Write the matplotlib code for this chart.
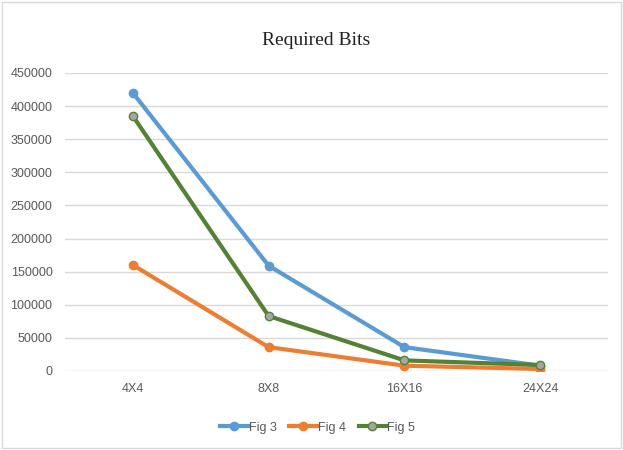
import matplotlib
matplotlib.use("Agg")
import matplotlib.pyplot as plt
from matplotlib.patches import Rectangle
from matplotlib import font_manager

categories = ["4X4", "8X8", "16X16", "24X24"]
fig3 = [420000, 159000, 36000, 8000]
fig4 = [160000, 36000, 8000, 3000]
fig5 = [385000, 83000, 16000, 9000]
yticks = [0, 50000, 100000, 150000, 200000, 250000, 300000, 350000, 400000, 450000]

names = {f.name for f in font_manager.fontManager.ttflist}
tick_font = "Liberation Sans Narrow" if "Liberation Sans Narrow" in names else "Liberation Sans"
title_font = "Liberation Serif" if "Liberation Serif" in names else "DejaVu Serif"
tsize = 10 if tick_font == "Liberation Sans Narrow" else 9

fig = plt.figure(figsize=(6.23, 4.5), dpi=100)
ax = fig.add_axes([0.1043, 0.1756, 0.8717, 0.6622])

x = list(range(len(categories)))
ax.plot(x, fig3, color="#5B9BD5", lw=3, marker="o", ms=6, mfc="#5B9BD5", mec="#5B9BD5", label="Fig 3")
ax.plot(x, fig4, color="#ED7D31", lw=3, marker="o", ms=6, mfc="#ED7D31", mec="#ED7D31", label="Fig 4")
ax.plot(x, fig5, color="#548235", lw=3, marker="o", ms=6, mfc="#A5A5A5", mec="#548235", label="Fig 5")

ax.set_xlim(-0.5, len(categories) - 0.5)
ax.set_ylim(0, 450000)
ax.set_yticks(yticks)
ax.set_yticklabels([str(v) for v in yticks])
ax.set_xticks(x)
ax.set_xticklabels(categories)
ax.grid(axis="y", color="#D9D9D9", lw=1)
ax.set_axisbelow(True)
for s in ax.spines.values():
    s.set_visible(False)
ax.tick_params(length=0, colors="#595959", labelsize=tsize)
for lab in ax.get_xticklabels() + ax.get_yticklabels():
    lab.set_fontfamily(tick_font)
ax.tick_params(axis="y", pad=9)
ax.tick_params(axis="x", pad=9)

fig.text(0.507, 0.91, "Required Bits", ha="center", va="center", fontsize=14,
         family=title_font, color="#222222")

leg = fig.legend(loc="center", bbox_to_anchor=(0.51, 0.05), ncol=3, frameon=False,
                 prop={"family": tick_font, "size": tsize}, handlelength=2.2,
                 columnspacing=1.0, handletextpad=0.1)
for t in leg.get_texts():
    t.set_color("#595959")

fig.patches.append(Rectangle((0.004, 0.004), 0.992, 0.992, transform=fig.transFigure,
                             fill=False, edgecolor="#D9D9D9", lw=1))

fig.savefig("out.png", dpi=100)
